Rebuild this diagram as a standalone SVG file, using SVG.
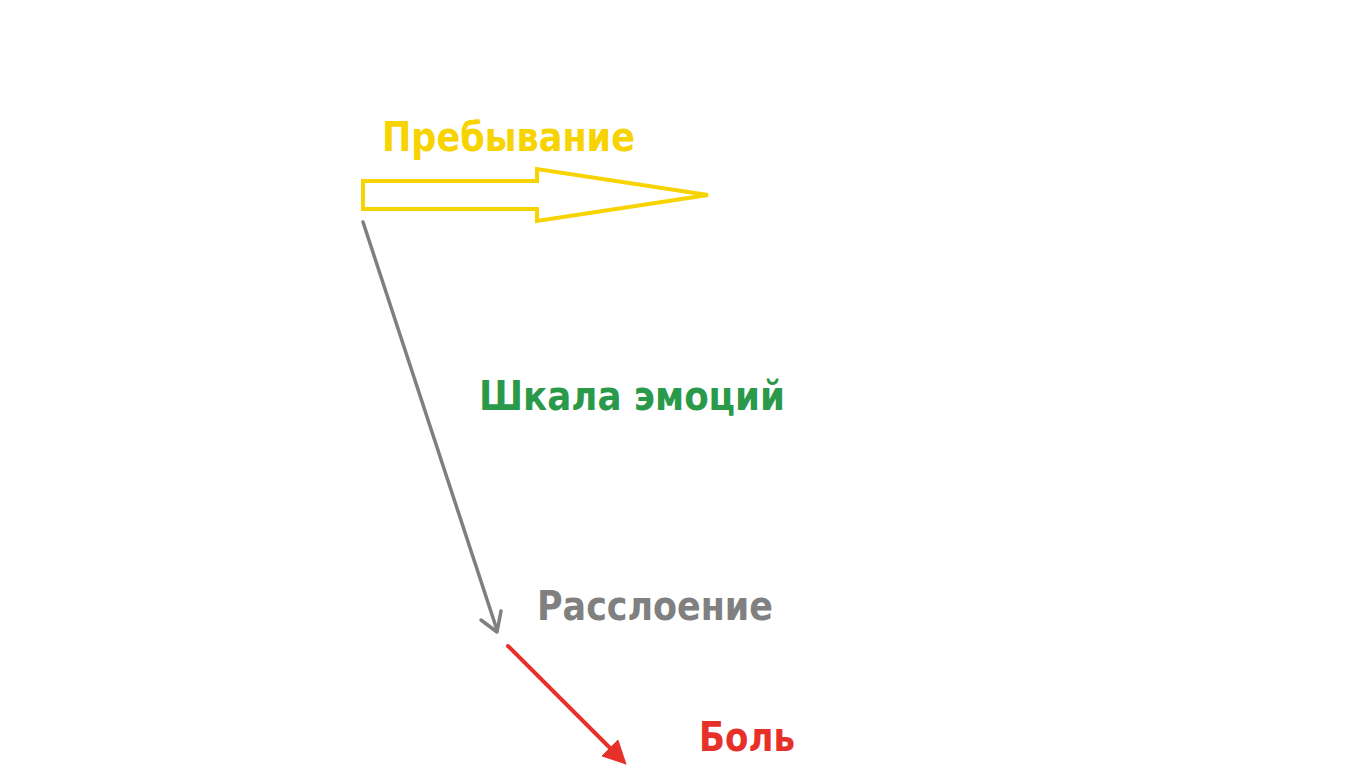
<svg xmlns="http://www.w3.org/2000/svg" width="1365" height="767" viewBox="0 0 1365 767">
<style>
.t{font-family:"DejaVu Sans","Liberation Sans",sans-serif;font-weight:bold;font-size:40px}
</style>
<defs>
<marker id="redHead" markerWidth="6" markerHeight="6" refX="4" refY="3" orient="auto" markerUnits="strokeWidth">
<path d="M0,0 L6,3 L0,6 Z" fill="#e8302a"/>
</marker>
</defs>
<rect width="1365" height="767" fill="#ffffff"/>
<g id="connectors">
<polygon id="yellow-arrow" points="363,181 537,181 537,169 708,195 537,221 537,209 363,209" fill="none" stroke="#f7d300" stroke-width="4" stroke-linejoin="miter"/>
<line x1="363" y1="222" x2="497" y2="630" stroke="#7f7f7f" stroke-width="3.5" stroke-linecap="round"/>
<polyline points="481,620 497,632 501,611" fill="none" stroke="#7f7f7f" stroke-width="3.5" stroke-linecap="round" stroke-linejoin="round"/>
<line x1="508" y1="646" x2="621" y2="759" stroke="#e8302a" stroke-width="4" stroke-linecap="round" marker-end="url(#redHead)"/>
</g>
<g id="node-prebyvanie"><text class="t" x="382" y="151" fill="#f7d300" textLength="253" lengthAdjust="spacingAndGlyphs">Пребывание</text></g>
<g id="node-shkala"><text class="t" x="479" y="410" fill="#2a9a4a" textLength="306" lengthAdjust="spacingAndGlyphs">Шкала эмоций</text></g>
<g id="node-rassloenie"><text class="t" x="537" y="620" fill="#808080" textLength="236" lengthAdjust="spacingAndGlyphs">Расслоение</text></g>
<g id="node-bol"><text class="t" x="699" y="751" fill="#e8302a" textLength="96" lengthAdjust="spacingAndGlyphs">Боль</text></g>
</svg>
